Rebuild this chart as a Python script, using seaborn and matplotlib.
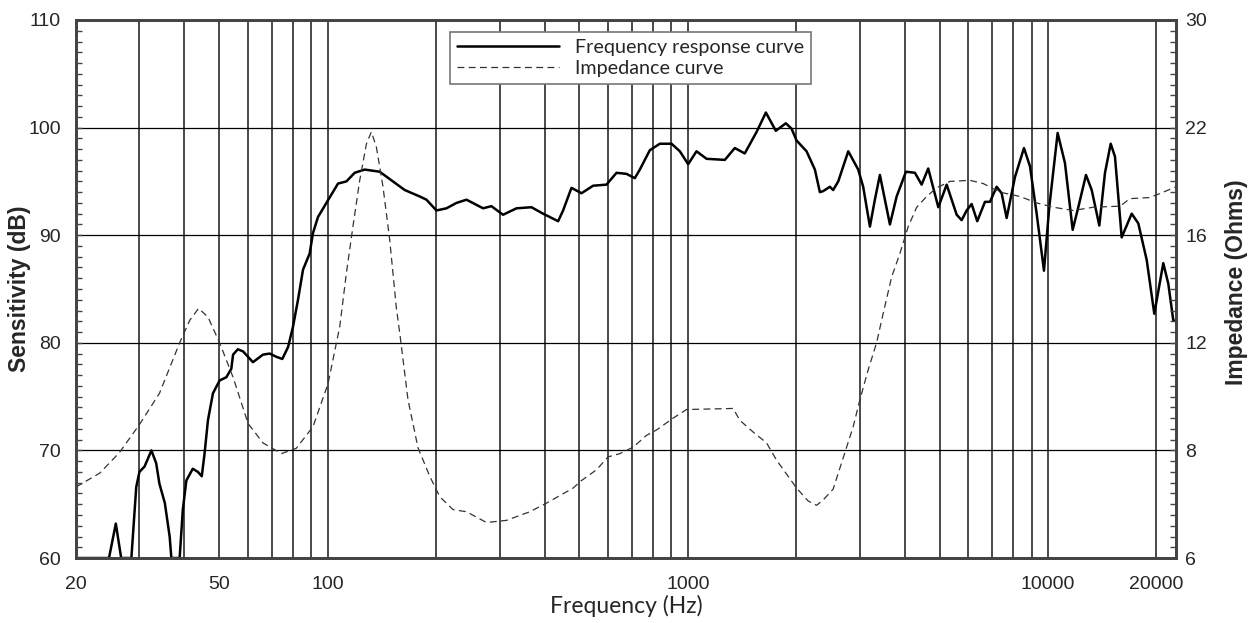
import numpy as np
import matplotlib
matplotlib.use("Agg")
import matplotlib.pyplot as plt
import seaborn as sns
from matplotlib.ticker import FixedLocator, NullFormatter, FuncFormatter

# ==================================================
# Data
# ==================================================

# frequency response (Hz, dB)
fr_freq = [20, 24.7, 25.8, 26.7, 28.5, 29.4, 30.0, 31.0, 32.4, 33.4, 34.1, 35.3,
           36.4, 36.8, 38.8, 39.6, 40.5, 42.2, 43.6, 44.7, 45.5, 46.5, 48.0, 50.1,
           52.3, 54.0, 54.6, 56.3, 58.2, 62.0, 66.1, 69.0, 72.0, 74.8, 77.6, 80.1,
           82.7, 85.4, 89.1, 91.0, 94.0, 99.2, 103.4, 106.8, 112.7, 118.8, 126.7,
           139.4, 151.8, 163.6, 168.9, 180.1, 188.0, 200.4, 213.7, 227.8, 242.9,
           270.0, 284.8, 306.8, 334.4, 367.9, 396.4, 436.3, 450.4, 475.2, 506.6,
           545.8, 594.4, 633.7, 675.7, 712.4, 735.6, 784.3, 836.1, 901.0, 950.1,
           1002, 1057, 1127, 1267, 1350, 1439, 1552, 1647, 1755, 1871, 1941, 2004,
           2136, 2253, 2326, 2376, 2480, 2532, 2616, 2789, 2972, 3068, 3203, 3306,
           3414, 3525, 3640, 3800, 4033, 4271, 4458, 4650, 4960, 5232, 5578, 5758,
           5946, 6138, 6362, 6684, 6900, 7202, 7436, 7678, 8096, 8577, 8913, 9302,
           9747, 10082, 10637, 11147, 11710, 12139, 12750, 13226, 13884, 14398,
           14934, 15348, 16020, 17080, 17814, 18798, 19734, 20900, 21580, 22280,
           22670]
fr_db = [60, 60, 63.2, 60, 60, 66.6, 68.0, 68.5, 70.0, 68.8, 66.9, 65.1,
         62.0, 60, 60, 64.5, 67.2, 68.3, 68.0, 67.6, 69.7, 72.8, 75.3, 76.5,
         76.8, 77.6, 78.9, 79.4, 79.2, 78.2, 78.9, 79.0, 78.7, 78.5, 79.6, 81.5,
         84.0, 86.8, 88.3, 90.2, 91.7, 93.0, 94.0, 94.8, 95.0, 95.8, 96.1,
         95.9, 95.0, 94.2, 94.0, 93.6, 93.3, 92.3, 92.5, 93.0, 93.3,
         92.5, 92.7, 91.9, 92.5, 92.6, 92.0, 91.3, 92.3, 94.4, 93.9,
         94.6, 94.7, 95.8, 95.7, 95.3, 96.1, 97.9, 98.5, 98.5, 97.8,
         96.6, 97.8, 97.1, 97.0, 98.1, 97.6, 99.6, 101.4, 99.7, 100.4, 99.9, 98.8,
         97.8, 96.1, 94.0, 94.1, 94.5, 94.2, 95.0, 97.8, 96.1, 94.5, 90.8, 93.3,
         95.6, 93.3, 91.0, 93.6, 95.9, 95.8, 94.7, 96.2, 92.6, 94.7, 91.9, 91.4,
         92.3, 92.9, 91.3, 93.1, 93.1, 94.5, 93.9, 91.6, 95.4, 98.1, 96.4, 92.0,
         86.7, 92.6, 99.5, 96.7, 90.5, 92.6, 95.6, 94.2, 90.9, 95.8,
         98.5, 97.3, 89.8, 92.0, 91.1, 87.7, 82.7, 87.4, 85.5, 82.1,
         82.0]

# impedance (Hz, Ohms)
imp_freq = [20.0, 23.3, 26.4, 30.0, 34.1, 38.8, 41.4, 43.8, 46.5, 50.1, 54.6,
            60.1, 66.1, 74.4, 81.8, 91.0, 100.2, 108.0, 112.7, 117.5, 122.7,
            128.1, 132.2, 136.5, 142.4, 148.6, 155.1, 158.5, 167.1, 178.1, 192.0,
            204.7, 222.8, 242.9, 276.0, 313.6, 364.0, 405.0, 480.2, 506.6, 557.6,
            600.6, 647.2, 704.8, 767.9, 818.6, 910.2, 991.7, 1336, 1394, 1519,
            1654, 1763, 2004, 2158, 2278, 2376, 2532, 2729, 2878, 3004, 3168,
            3343, 3452, 3679, 3880, 4092, 4320, 4603, 4905, 5344, 6072, 6610,
            7358, 8359, 9302, 10344, 11757, 13360, 15850, 16894, 19196, 20900,
            22670]
imp_ohm = [7.32, 7.58, 7.96, 8.96, 10.12, 12.0, 12.84, 13.28, 12.96, 12.0, 10.72,
           9.0, 8.28, 7.94, 8.08, 8.88, 10.48, 12.6, 14.6, 16.48, 19.06,
           21.1, 21.76, 20.92, 18.7, 15.84, 13.3, 12.36, 9.88, 8.1, 7.52,
           7.14, 6.9, 6.86, 6.66, 6.7, 6.86, 7.02, 7.3, 7.44, 7.64,
           7.88, 7.94, 8.12, 8.56, 8.76, 9.2, 9.52, 9.56, 9.12, 8.68,
           8.28, 7.82, 7.3, 7.06, 6.98, 7.08, 7.28, 7.96, 8.88, 9.88, 11.0,
           12.0, 12.84, 14.44, 15.32, 16.48, 17.56, 18.16, 18.64, 19.0, 19.06, 18.88,
           18.4, 18.16, 17.8, 17.56, 17.38, 17.56, 17.62, 18.04, 18.1, 18.4,
           18.7]

x_labels = [20, 50, 100, 1000, 10000, 20000]
db_ticks = [60, 70, 80, 90, 100, 110]
ohm_ticks = [6, 8, 12, 16, 22, 30]

# vertical grid: 20..100, 200..1000, 2000..10000, 20000
x_grid = list(range(20, 101, 10)) + list(range(200, 1001, 100)) + \
         list(range(2000, 10001, 1000)) + [20000]

# ==================================================
# Style
# ==================================================

sns.set_style("white")
plt.rcParams["font.family"] = ["Liberation Sans", "DejaVu Sans"]
humanist = ["Lato", "DejaVu Sans"]
axis_grey = "#444444"

fig, ax = plt.subplots(figsize=(12.56, 6.23), dpi=100)
fig.subplots_adjust(left=0.0605, right=0.9363, bottom=0.1043, top=0.9679)

# ==================================================
# Frequency response (left axis)
# ==================================================

sns.lineplot(x=fr_freq, y=fr_db, ax=ax, color="black", linewidth=1.8, sort=False)
ax.set_xscale("log")
ax.set_xlim(20, 22670)
ax.set_ylim(60, 110)

ax.xaxis.remove_overlapping_locs = False
ax.xaxis.set_major_locator(FixedLocator(x_labels))
ax.xaxis.set_major_formatter(FuncFormatter(lambda v, p: f"{v:g}"))
ax.xaxis.set_minor_locator(FixedLocator(x_grid))
ax.xaxis.set_minor_formatter(NullFormatter())
ax.yaxis.set_major_locator(FixedLocator(db_ticks))
ax.yaxis.set_minor_locator(FixedLocator(np.arange(60, 110.1, 1)))

ax.grid(False)
ax.grid(True, which="minor", axis="x", color="#3a3a3a", linewidth=1.3)
ax.grid(True, which="major", axis="y", color="black", linewidth=0.9)

ax.tick_params(axis="x", which="both", length=0, labelsize=14, pad=13)
ax.tick_params(axis="y", which="both", direction="in", length=4.5, width=1,
               color=axis_grey, labelsize=14, pad=11)

ax.set_xlabel("Frequency (Hz)", fontsize=16.5, family=humanist, labelpad=1)
ax.set_ylabel("Sensitivity (dB)", fontsize=16.5, fontweight="bold")
ax.yaxis.set_label_coords(-0.041, 0.5)

# ==================================================
# Impedance (right axis)
# ==================================================

steps = np.arange(len(ohm_ticks))


def ohm_fwd(v):
    return np.interp(v, ohm_ticks, steps)


def ohm_inv(s):
    return np.interp(s, steps, ohm_ticks)


ax2 = ax.twinx()
ax2.set_yscale("function", functions=(ohm_fwd, ohm_inv))
sns.lineplot(x=imp_freq, y=imp_ohm, ax=ax2, color="#333333", linewidth=0.9,
             linestyle=(0, (5.5, 3.5)), sort=False)
ax2.set_ylim(6, 30)
ax2.yaxis.set_major_locator(FixedLocator(ohm_ticks))
ax2.yaxis.set_major_formatter(FuncFormatter(lambda v, p: f"{v:g}"))
ax2.yaxis.set_minor_locator(FixedLocator(ohm_inv(np.arange(0, 5.01, 0.1))))
ax2.yaxis.set_minor_formatter(NullFormatter())
ax2.grid(False)
ax2.tick_params(axis="y", which="both", direction="in", length=4.5, width=1,
                color=axis_grey, labelsize=14, pad=6.5)
ax2.set_xlabel("")
ax2.set_ylabel("Impedance (Ohms)", fontsize=16.5, fontweight="bold")
ax2.yaxis.set_label_coords(1.0445, 0.513)

for a in (ax, ax2):
    for s in a.spines.values():
        s.set_color(axis_grey)
        s.set_linewidth(2)

# ==================================================
# Legend
# ==================================================

h_fr = ax.get_lines()[0]
h_imp = ax2.get_lines()[0]
leg = ax2.legend([h_fr, h_imp], ["Frequency response curve", "Impedance curve"],
                 loc="upper left", bbox_to_anchor=(0.34, 0.978),
                 frameon=True, fancybox=False, framealpha=1, edgecolor="#777777",
                 handlelength=5.2, handletextpad=0.8, labelspacing=0.2,
                 borderpad=0.35, borderaxespad=0,
                 prop={"family": humanist, "size": 14.2})
leg.get_frame().set_linewidth(1.2)

plt.savefig("out.png", dpi=100)
